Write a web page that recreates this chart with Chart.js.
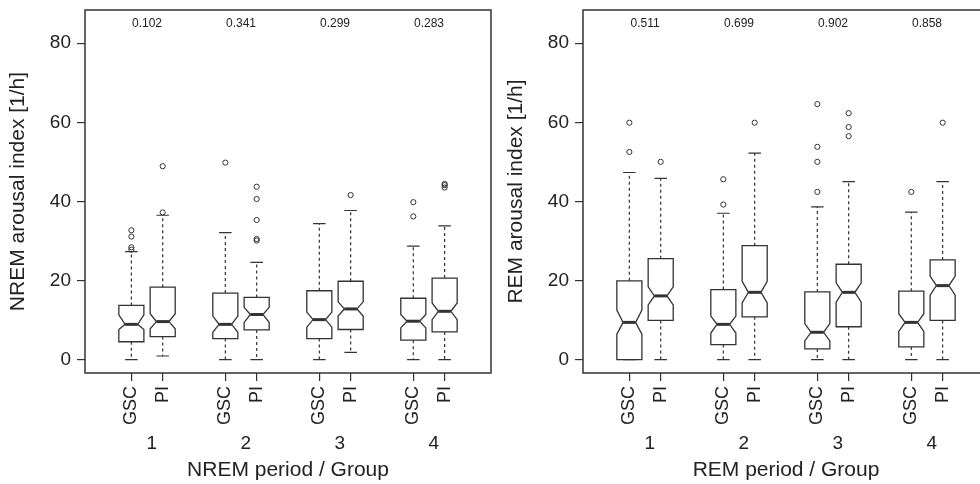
<!DOCTYPE html>
<html>
<head>
<meta charset="utf-8">
<script src="https://cdn.jsdelivr.net/npm/chart.js@4"></script>
<style>
  html, body { margin: 0; padding: 0; background: #fff; }
  #wrap { position: relative; width: 980px; height: 484px; overflow: hidden; }
  .panel { position: absolute; top: 0; width: 498px; height: 484px; }
</style>
</head>
<body>
<div id="wrap">
  <div class="panel" style="left:0"><canvas id="nrem" width="498" height="484"></canvas></div>
  <div class="panel" style="left:498px"><canvas id="rem" width="498" height="484"></canvas></div>
</div>
<script>
// box positions and labels
var positions = [1, 2, 4, 5, 7, 8, 10, 11];
var groupLabels = ['GSC', 'PI', 'GSC', 'PI', 'GSC', 'PI', 'GSC', 'PI'];
var periods = ['1', '2', '3', '4'];
var yTicks = [0, 20, 40, 60, 80];

// NREM arousal index
var nremLow = [0, 0.9, 0, 0, 0, 1.8, 0, 0];
var nremQ1 = [4.5, 5.8, 5.3, 7.5, 5.3, 7.6, 4.9, 7.0];
var nremNotchLow = [7.6, 7.8, 6.9, 9.4, 8.2, 11.0, 8.0, 10.1];
var nremMedian = [8.9, 9.6, 8.9, 11.4, 10.1, 12.8, 9.7, 12.2];
var nremNotchHigh = [11.3, 11.6, 11.0, 13.2, 12.0, 14.6, 11.4, 14.3];
var nremQ3 = [13.7, 18.3, 16.8, 15.7, 17.4, 19.8, 15.5, 20.6];
var nremHigh = [27.3, 36.5, 32.1, 24.6, 34.4, 37.7, 28.7, 33.8];
var nremOutliers = [[27.8, 28.4, 31.1, 32.7], [37.2, 48.9], [49.8], [30.1, 30.5, 35.3, 40.6, 43.7], [], [41.6], [36.2, 39.8], [43.5, 44.1, 44.4]];
var nremP = ['0.102', '0.341', '0.299', '0.283'];

// REM arousal index
var remLow = [0, 0, 0, 0, 0, 0, 0, 0];
var remQ1 = [0, 9.9, 3.8, 10.8, 2.7, 8.3, 3.2, 9.9];
var remNotchLow = [6.4, 13.8, 6.7, 14.3, 4.7, 14.5, 7.1, 16.3];
var remMedian = [9.4, 16.1, 8.9, 17.0, 6.9, 17.0, 9.4, 18.7];
var remNotchHigh = [12.5, 18.4, 11.0, 19.8, 9.1, 19.4, 11.6, 21.1];
var remQ3 = [19.9, 25.5, 17.7, 28.8, 17.1, 24.1, 17.3, 25.2];
var remHigh = [47.3, 45.8, 37.0, 52.2, 38.6, 45.0, 37.3, 45.0];
var remOutliers = [[52.5, 59.9], [50.0], [39.2, 45.6], [59.9], [42.4, 50.0, 53.8, 64.6], [56.5, 58.8, 62.3], [42.4], [59.9]];
var remP = ['0.511', '0.699', '0.902', '0.858'];

var ink = '#333';
var font = '"Liberation Sans", Arial, sans-serif';

// draws the notched boxes, the frame, period numbers and p values
var boxPlugin = {
  id: 'boxes',
  afterDatasetsDraw: function(chart) {
    var s = chart.options.plugins.boxes;
    var ctx = chart.ctx, x = chart.scales.x, y = chart.scales.y, a = chart.chartArea;
    ctx.save();
    ctx.strokeStyle = ink;
    for (var i = 0; i < positions.length; i++) {
      var xc = x.getPixelForValue(positions[i]);
      var hw = x.getPixelForValue(positions[i] + 0.4) - xc;
      var cw = hw / 2;
      var py = function(v) { return y.getPixelForValue(v); };
      // whiskers
      ctx.lineWidth = 1.2;
      ctx.setLineDash([3, 3]);
      ctx.beginPath();
      ctx.moveTo(xc, py(s.q3[i])); ctx.lineTo(xc, py(s.hi[i]));
      ctx.moveTo(xc, py(s.q1[i])); ctx.lineTo(xc, py(s.lo[i]));
      ctx.stroke();
      ctx.setLineDash([]);
      ctx.beginPath();
      ctx.moveTo(xc - cw, py(s.hi[i])); ctx.lineTo(xc + cw, py(s.hi[i]));
      ctx.moveTo(xc - cw, py(s.lo[i])); ctx.lineTo(xc + cw, py(s.lo[i]));
      ctx.stroke();
      // notched box
      ctx.lineWidth = 1.3;
      ctx.beginPath();
      ctx.moveTo(xc - hw, py(s.q3[i]));
      ctx.lineTo(xc - hw, py(s.nhi[i]));
      ctx.lineTo(xc - hw / 2, py(s.med[i]));
      ctx.lineTo(xc - hw, py(s.nlo[i]));
      ctx.lineTo(xc - hw, py(s.q1[i]));
      ctx.lineTo(xc + hw, py(s.q1[i]));
      ctx.lineTo(xc + hw, py(s.nlo[i]));
      ctx.lineTo(xc + hw / 2, py(s.med[i]));
      ctx.lineTo(xc + hw, py(s.nhi[i]));
      ctx.lineTo(xc + hw, py(s.q3[i]));
      ctx.closePath();
      ctx.fillStyle = '#fff';
      ctx.fill();
      ctx.stroke();
      // median
      ctx.lineWidth = 3;
      ctx.beginPath();
      ctx.moveTo(xc - hw / 2, py(s.med[i]));
      ctx.lineTo(xc + hw / 2, py(s.med[i]));
      ctx.stroke();
    }
    // frame
    ctx.lineWidth = 1.5;
    ctx.strokeRect(a.left, a.top, a.right - a.left, a.bottom - a.top);
    // p values and period numbers
    ctx.fillStyle = '#222';
    ctx.textAlign = 'center';
    ctx.textBaseline = 'middle';
    ctx.font = '12px ' + font;
    for (var j = 0; j < periods.length; j++) {
      ctx.fillText(s.p[j], x.getPixelForValue(positions[2 * j] + 0.5), 24);
    }
    ctx.font = '19px ' + font;
    for (var k = 0; k < periods.length; k++) {
      ctx.fillText(periods[k], x.getPixelForValue(positions[2 * k] + 0.65), 444);
    }
    ctx.restore();
  }
};

function outlierPoints(outs) {
  var pts = [];
  for (var i = 0; i < outs.length; i++) {
    for (var j = 0; j < outs[i].length; j++) pts.push({ x: positions[i], y: outs[i][j] });
  }
  return pts;
}

function makeChart(id, stats, outs, yTitle, xTitle) {
  return new Chart(document.getElementById(id), {
    type: 'scatter',
    data: {
      datasets: [{
        data: outlierPoints(outs),
        pointRadius: 2.6,
        borderWidth: 1,
        borderColor: ink,
        backgroundColor: 'rgba(0,0,0,0)'
      }]
    },
    options: {
      responsive: false,
      animation: false,
      layout: { padding: { top: 10, right: 7, left: 0, bottom: 0 } },
      plugins: { legend: { display: false }, tooltip: { enabled: false }, boxes: stats },
      scales: {
        x: {
          type: 'linear', min: -0.48, max: 12.48,
          afterBuildTicks: function(sc) { sc.ticks = positions.map(function(v) { return { value: v }; }); },
          afterFit: function(sc) { sc.height = 111; sc.paddingLeft = 0; sc.paddingRight = 0; },
          grid: { drawOnChartArea: false, drawTicks: true, tickLength: 8, color: ink, lineWidth: 1.2 },
          border: { display: false },
          ticks: {
            autoSkip: false, minRotation: 90, maxRotation: 90, padding: 5,
            color: '#222', font: { family: font, size: 18 },
            callback: function(v) { return groupLabels[positions.indexOf(v)]; }
          },
          title: { display: true, text: xTitle, color: '#222', font: { family: font, size: 21 }, padding: { top: 0, bottom: 1 } }
        },
        y: {
          min: -3.4, max: 88.4,
          afterBuildTicks: function(sc) { sc.ticks = yTicks.map(function(v) { return { value: v }; }); },
          afterFit: function(sc) { sc.width = 85; sc.paddingTop = 0; sc.paddingBottom = 0; },
          grid: { drawOnChartArea: false, drawTicks: true, tickLength: 8, color: ink, lineWidth: 1.2 },
          border: { display: false },
          ticks: { padding: 6, color: '#222', font: { family: font, size: 19 } },
          title: { display: true, text: yTitle, color: '#222', font: { family: font, size: 21 }, padding: { top: 6, bottom: 0 } }
        }
      }
    },
    plugins: [boxPlugin]
  });
}

makeChart('nrem', {
  lo: nremLow, q1: nremQ1, nlo: nremNotchLow, med: nremMedian, nhi: nremNotchHigh, q3: nremQ3, hi: nremHigh, p: nremP
}, nremOutliers, 'NREM arousal index [1/h]', 'NREM period / Group');

makeChart('rem', {
  lo: remLow, q1: remQ1, nlo: remNotchLow, med: remMedian, nhi: remNotchHigh, q3: remQ3, hi: remHigh, p: remP
}, remOutliers, 'REM arousal index [1/h]', 'REM period / Group');
</script>
</body>
</html>
